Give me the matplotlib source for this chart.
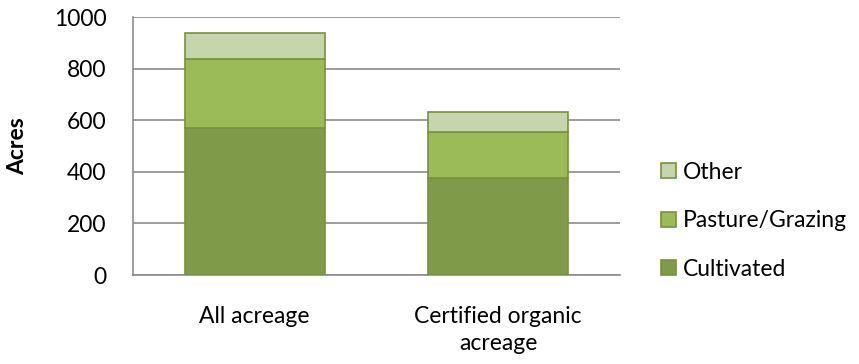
import matplotlib.pyplot as plt
import numpy as np

categorias = ["All acreage", "Certified organic\nacreage"]
cultivated = [570, 376]
pasture = [267, 178]
other = [101, 78]

series = [("Cultivated", cultivated, "#7f9a48"),
          ("Pasture/Grazing", pasture, "#9bbb59"),
          ("Other", other, "#c5d6ac")]

plt.rcParams['font.family'] = ['Lato', 'DejaVu Sans']
fs = 16.5

fig = plt.figure(figsize=(8.59, 3.64), dpi=100)
ax = fig.add_axes([0.1548, 0.2445, 0.567, 0.7085])

x = np.arange(len(categorias))
base = np.zeros(len(categorias))
for nome, valores, cor in series:
    ax.bar(x, valores, 0.575, bottom=base, color=cor, edgecolor="#76923c",
           linewidth=1.2, label=nome, zorder=3)
    base = base + np.array(valores)

ax.set_xlim(-0.5, 1.5)
ax.set_ylim(0, 1000)
ax.set_yticks(range(0, 1001, 200))
ax.yaxis.grid(True, color="#8c8c8c", linewidth=1.2, zorder=0)
for lado in ["top", "right"]:
    ax.spines[lado].set_visible(False)
for lado in ["left", "bottom"]:
    ax.spines[lado].set_color("#8c8c8c")
    ax.spines[lado].set_linewidth(1.2)
ax.tick_params(axis="y", length=0, pad=19, labelsize=fs)
ax.tick_params(axis="x", length=0, pad=22, labelsize=fs)
ax.set_xticks(x)
ax.set_xticklabels(categorias, linespacing=1.4)
ax.set_ylabel("Acres", fontsize=fs, fontweight="bold")
ax.yaxis.set_label_coords(-0.216, 0.5)

handles, labels = ax.get_legend_handles_labels()
ax.legend(handles[::-1], labels[::-1], loc="center left", bbox_to_anchor=(1.042, 0.21),
          frameon=False, fontsize=fs, handlelength=0.65, handleheight=0.65,
          handletextpad=0.3, labelspacing=1.2)

fig.savefig("out.png", dpi=100)
